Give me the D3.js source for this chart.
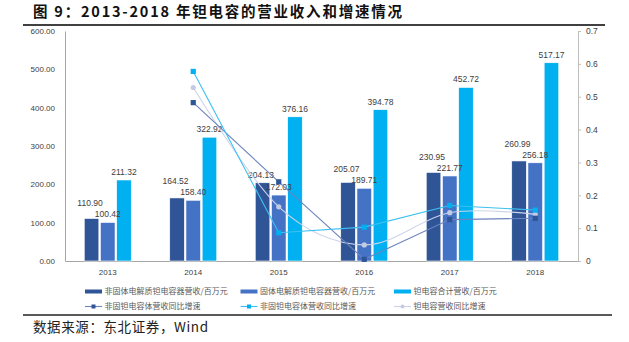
<!DOCTYPE html>
<html lang="zh">
<head>
<meta charset="UTF-8">
<title>钽电容营业收入和增速</title>
<script src="https://cdn.jsdelivr.net/npm/d3@7"></script>
<style>
  body { margin: 0; background: #fff; }
  svg text { font-family: "Liberation Sans", Arial, "Noto Sans CJK SC", sans-serif; }
  .cjk { font-family: "Noto Sans CJK SC", sans-serif !important; }
</style>
</head>
<body>
<div id="chart"></div>
<script>
// data
var years = ["2013", "2014", "2015", "2016", "2017", "2018"];
var nonSolidRev = [110.90, 164.52, 204.13, 205.07, 230.95, 260.99];
var solidRev = [100.42, 158.40, 172.03, 189.71, 221.77, 256.18];
var totalRev = [211.32, 322.92, 376.16, 394.78, 452.72, 517.17];
var nonSolidGrowth = [null, 0.482, 0.241, 0.005, 0.126, 0.130];
var solidGrowth = [null, 0.577, 0.086, 0.103, 0.169, 0.155];
var totalGrowth = [null, 0.528, 0.165, 0.049, 0.147, 0.142];
var leftTicks = [0, 100, 200, 300, 400, 500, 600];
var rightTicks = [0, 0.1, 0.2, 0.3, 0.4, 0.5, 0.6, 0.7];

var barNames = ["非固体电解质钽电容器营收/百万元", "固体电解质钽电容器营收/百万元", "钽电容合计营收/百万元"];
var lineNames = ["非固钽电容体营收同比增速", "非固钽电容体营收同比增速", "钽电容营收同比增速"];

var W = 629, H = 342;
var plotL = 65, plotR = 578, plotT = 31, plotB = 261;

var svg = d3.select("#chart").append("svg")
    .attr("width", W)
    .attr("height", H);

// title + rules
svg.append("text")
    .attr("class", "cjk")
    .attr("x", 33)
    .attr("y", 17)
    .attr("textLength", 369)
    .attr("lengthAdjust", "spacing")
    .style("font-size", "14.5px")
    .style("font-weight", "bold")
    .style("fill", "#111")
    .text("图 9：2013-2018 年钽电容的营业收入和增速情况");

svg.append("line")
    .attr("x1", 23).attr("x2", 605)
    .attr("y1", 25).attr("y2", 25)
    .attr("stroke", "#404040").attr("stroke-width", 1.8);

var x = d3.scaleBand().domain(years).range([plotL, plotR]);
var series = [
    { name: barNames[0], values: nonSolidRev, color: "#2F5597" },
    { name: barNames[1], values: solidRev, color: "#4472C4" },
    { name: barNames[2], values: totalRev, color: "#00B0F0" }
];
var inner = d3.scaleBand()
    .domain([0, 1, 2])
    .range([19.25, x.bandwidth() - 19.25])
    .paddingInner(0.1);

var y = d3.scaleLinear().domain([0, 600]).range([plotB, plotT]);
var y2 = d3.scaleLinear().domain([0, 0.7]).range([plotB, plotT]);

// left axis
var gl = svg.append("g")
    .attr("transform", "translate(" + plotL + ",0)")
    .call(d3.axisLeft(y).tickValues(leftTicks).tickSize(0).tickPadding(10)
        .tickFormat(d3.format(".2f")));
gl.select(".domain").attr("stroke", "#A6A6A6");
gl.selectAll("text").style("font-size", "8px").style("fill", "#404040");

// right axis
var gr = svg.append("g")
    .attr("transform", "translate(" + plotR + ",0)")
    .call(d3.axisRight(y2).tickValues(rightTicks).tickSize(3).tickPadding(5)
        .tickFormat(function (d) { return d === 0 ? "0" : d3.format(".1f")(d); }));
gr.select(".domain").attr("stroke", "#BFBFBF");
gr.selectAll("line").attr("stroke", "#BFBFBF");
gr.selectAll("text").style("font-size", "8.5px").style("fill", "#404040");

// bottom axis
var gb = svg.append("g")
    .attr("transform", "translate(0," + plotB + ")")
    .call(d3.axisBottom(x).tickSize(0).tickPadding(8));
gb.select(".domain").attr("stroke", "#A6A6A6");
gb.selectAll("text").style("font-size", "8px").style("fill", "#404040");

// bars
var groups = svg.selectAll(".bars")
    .data(series)
    .enter()
    .append("g")
    .attr("class", "bars")
    .style("fill", function (d) { return d.color; });

groups.selectAll("rect")
    .data(function (d, i) { return d.values.map(function (v, j) { return { s: i, year: years[j], value: v }; }); })
    .enter()
    .append("rect")
    .attr("x", function (d) { return x(d.year) + inner(d.s); })
    .attr("y", function (d) { return y(d.value); })
    .attr("width", inner.bandwidth())
    .attr("height", function (d) { return plotB - y(d.value); })
    .attr("stroke", "#fff")
    .attr("stroke-width", 0.6);

// bar labels; the dark bar's label is lifted when it would collide with the middle one
function labelY(s, j) {
    var base = y(series[s].values[j]) - 8;
    if (s === 0) {
        var mid = y(series[1].values[j]) - 8;
        return Math.min(base, mid - 11);
    }
    return base;
}
series.forEach(function (sr, s) {
    svg.selectAll(".lab" + s)
        .data(sr.values)
        .enter()
        .append("text")
        .attr("x", function (d, j) { return x(years[j]) + inner(s) + inner.bandwidth() / 2 - (s === 0 ? 1.5 : 0); })
        .attr("y", function (d, j) { return labelY(s, j); })
        .attr("dy", "0.35em")
        .attr("text-anchor", "middle")
        .style("font-size", "8.5px")
        .style("fill", "#404040")
        .text(function (d) { return d3.format(".2f")(d); });
});

// growth lines (only the total one is smoothed in the original)
var lines = [
    { name: lineNames[2], values: totalGrowth, stroke: "#CDD4EA", fill: "#C3CAE4", shape: "circle", curve: d3.curveCardinal.tension(0) },
    { name: lineNames[0], values: nonSolidGrowth, stroke: "#6C83BE", fill: "#2F5597", shape: "square", curve: d3.curveLinear },
    { name: lineNames[1], values: solidGrowth, stroke: "#3BC0F2", fill: "#00B0F0", shape: "square", curve: d3.curveLinear }
];
var cx = function (j) { return x(years[j]) + x.bandwidth() / 2; };

lines.forEach(function (l) {
    var line = d3.line()
        .defined(function (d) { return d != null; })
        .x(function (d, j) { return cx(j); })
        .y(function (d) { return y2(d); })
        .curve(l.curve);
    svg.append("path")
        .attr("d", line(l.values))
        .attr("fill", "none")
        .attr("stroke", l.stroke)
        .attr("stroke-width", 1.1);
    var pts = l.values.map(function (v, j) { return { v: v, j: j }; }).filter(function (d) { return d.v != null; });
    if (l.shape === "circle") {
        svg.selectAll(null).data(pts).enter().append("circle")
            .attr("cx", function (d) { return cx(d.j); })
            .attr("cy", function (d) { return y2(d.v); })
            .attr("r", 2.6)
            .attr("fill", l.fill);
    } else {
        svg.selectAll(null).data(pts).enter().append("rect")
            .attr("x", function (d) { return cx(d.j) - 2.6; })
            .attr("y", function (d) { return y2(d.v) - 2.6; })
            .attr("width", 5.2)
            .attr("height", 5.2)
            .attr("fill", l.fill);
    }
});

// legend
var legX = [85, 240.5, 394];
series.forEach(function (sr, i) {
    svg.append("rect")
        .attr("x", legX[i]).attr("y", 289.5)
        .attr("width", 17).attr("height", 4)
        .attr("fill", sr.color);
    svg.append("text")
        .attr("class", "cjk")
        .attr("x", legX[i] + 19.5).attr("y", 291.5)
        .attr("dy", "0.35em")
        .style("font-size", "8px")
        .style("fill", "#595959")
        .text(sr.name);
});
var legLines = [lines[1], lines[2], lines[0]];
legLines.forEach(function (l, i) {
    var lx = legX[i], ly = 306.5;
    svg.append("line")
        .attr("x1", lx).attr("x2", lx + 17)
        .attr("y1", ly).attr("y2", ly)
        .attr("stroke", l.stroke).attr("stroke-width", 1.1);
    if (l.shape === "circle") {
        svg.append("circle").attr("cx", lx + 8.5).attr("cy", ly).attr("r", 2).attr("fill", l.fill);
    } else {
        svg.append("rect").attr("x", lx + 6.5).attr("y", ly - 2).attr("width", 4).attr("height", 4).attr("fill", l.fill);
    }
    svg.append("text")
        .attr("class", "cjk")
        .attr("x", lx + 19.5).attr("y", ly)
        .attr("dy", "0.35em")
        .style("font-size", "8px")
        .style("fill", "#595959")
        .text(l.name);
});

// source
svg.append("line")
    .attr("x1", 23).attr("x2", 612)
    .attr("y1", 315).attr("y2", 315)
    .attr("stroke", "#222").attr("stroke-width", 1.3);

svg.append("text")
    .attr("class", "cjk")
    .attr("x", 33)
    .attr("y", 331.5)
    .attr("textLength", 175)
    .attr("lengthAdjust", "spacing")
    .style("font-size", "13.5px")
    .style("fill", "#222")
    .text("数据来源：东北证券，Wind");
</script>
</body>
</html>
